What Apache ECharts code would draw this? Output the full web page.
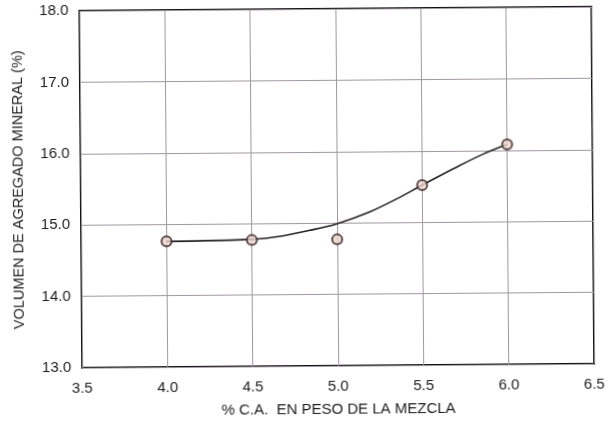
<!DOCTYPE html>
<html>
<head>
<meta charset="utf-8">
<script src="https://cdn.jsdelivr.net/npm/echarts@6/dist/echarts.min.js"></script>
<style>
  html, body { margin: 0; padding: 0; background: #fff; }
  #chart { width: 616px; height: 424px; transform: rotate(-0.45deg); transform-origin: 50% 50%; }
</style>
</head>
<body>
<div id="chart"></div>
<script>
// Asphalt content vs. voids in mineral aggregate (VMA)
const asphaltContent = [4.0, 4.5, 5.0, 5.5, 6.0];
const vmaValues = [14.76, 14.77, 14.77, 15.52, 16.08];

// Hand-drawn trend curve, read along its length
const trendX = [4.0, 4.5, 4.67, 4.84, 5.0, 5.19, 5.35, 5.5, 5.72, 5.86, 6.0];
const trendY = [14.76, 14.78, 14.82, 14.9, 14.99, 15.15, 15.33, 15.52, 15.79, 15.95, 16.08];

const xTicks = ['3.5', '4.0', '4.5', '5.0', '5.5', '6.0', '6.5'];
const yTicks = ['13.0', '14.0', '15.0', '16.0', '17.0', '18.0'];

const xTitle = '% C.A.  EN PESO DE LA MEZCLA';
const yTitle = 'VOLUMEN DE AGREGADO MINERAL (%)';

const font = 'Liberation Sans, Arial, sans-serif';
const ink = '#1c1c1c';
const chart = echarts.init(document.getElementById('chart'), null, { renderer: 'canvas' });

chart.setOption({
  animation: false,
  backgroundColor: '#ffffff',
  grid: { left: 81, right: 23, top: 9, bottom: 58, show: true, borderColor: '#111', borderWidth: 2 },
  xAxis: {
    type: 'value', min: 3.5, max: 6.5, interval: 0.5,
    name: xTitle, nameLocation: 'middle', nameGap: 36,
    nameTextStyle: { fontFamily: font, fontSize: 15, color: ink },
    axisLine: { show: false }, axisTick: { show: false },
    axisLabel: {
      margin: 13, fontFamily: font, fontSize: 15, color: ink,
      formatter: v => xTicks[Math.round((v - 3.5) / 0.5)]
    },
    splitLine: { show: true, lineStyle: { color: '#a098a0', width: 1 } }
  },
  yAxis: {
    type: 'value', min: 13, max: 18, interval: 1,
    name: yTitle, nameLocation: 'middle', nameGap: 55, nameRotate: 90,
    nameTextStyle: { fontFamily: font, fontSize: 14.5, color: ink },
    axisLine: { show: false }, axisTick: { show: false },
    axisLabel: {
      margin: 11, fontFamily: font, fontSize: 15, color: ink,
      formatter: v => yTicks[Math.round(v - 13)]
    },
    splitLine: { show: true, lineStyle: { color: '#a098a0', width: 1 } }
  },
  series: [
    {
      type: 'line', smooth: 0.3, showSymbol: false, silent: true,
      data: trendX.map((x, i) => [x, trendY[i]]),
      lineStyle: { color: '#222', width: 1.6 },
      z: 2
    },
    {
      type: 'scatter', symbol: 'circle', symbolSize: 10,
      data: asphaltContent.map((x, i) => [x, vmaValues[i]]),
      itemStyle: { color: '#ecd6cc', borderColor: '#3a2626', borderWidth: 2 },
      z: 3
    }
  ]
});
</script>
</body>
</html>
